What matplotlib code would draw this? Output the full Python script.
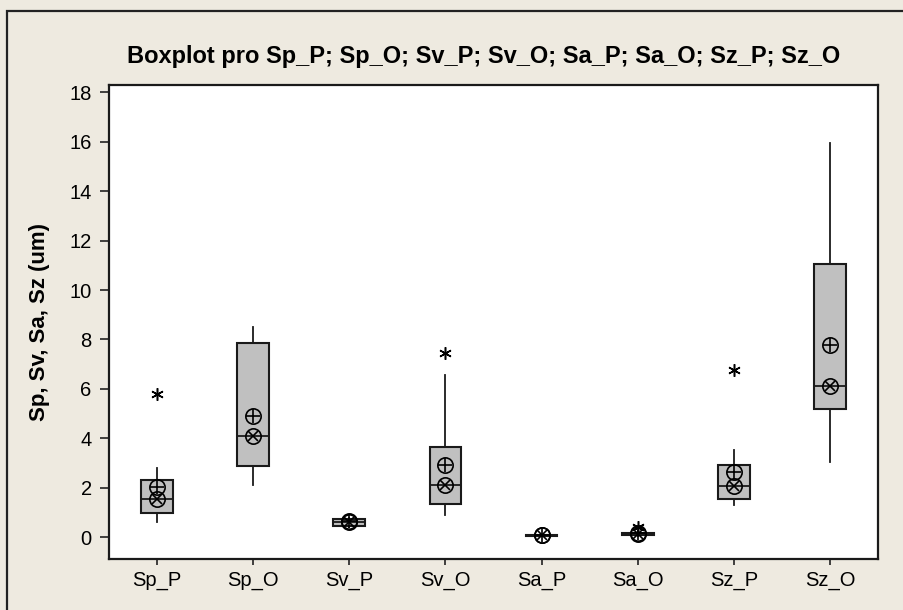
import matplotlib.pyplot as plt
from matplotlib.patches import Rectangle

# Surface roughness parameters, P and O samples
labels = ["Sp_P", "Sp_O", "Sv_P", "Sv_O", "Sa_P", "Sa_O", "Sz_P", "Sz_O"]
whisker_low = [0.59, 2.12, 0.42, 0.90, 0.03, 0.06, 1.28, 3.02]
q1 = [0.97, 2.89, 0.45, 1.35, 0.04, 0.09, 1.55, 5.18]
median = [1.54, 4.07, 0.62, 2.12, 0.07, 0.13, 2.05, 6.13]
q3 = [2.29, 7.85, 0.72, 3.66, 0.09, 0.17, 2.93, 11.05]
whisker_high = [2.79, 8.50, 0.76, 6.56, 0.10, 0.24, 3.51, 15.95]
means = [2.01, 4.88, 0.66, 2.93, 0.07, 0.15, 2.63, 7.76]
outliers = [[5.80], [], [], [7.45], [], [0.40], [6.75], []]

bg = "#EEEAE0"
plt.rcParams["font.family"] = ["Liberation Sans", "DejaVu Sans"]

fig = plt.figure(figsize=(9.04, 6.10), dpi=100, facecolor=bg)
ax = fig.add_axes([109 / 904, 1 - 559 / 610, (878 - 109) / 904, (559 - 85) / 610])

# outer frame of the graph window
fig.patches.append(Rectangle((7 / 904, -0.1), 1.2, 1 - 11 / 610 + 0.1,
                             transform=fig.transFigure, fill=False,
                             edgecolor="#222222", linewidth=1.6))

stats = []
for i, name in enumerate(labels):
    stats.append(dict(label=name, whislo=whisker_low[i], q1=q1[i], med=median[i],
                      q3=q3[i], whishi=whisker_high[i], fliers=outliers[i]))

pos = list(range(1, len(labels) + 1))
ax.bxp(stats, positions=pos, widths=0.33, patch_artist=True, showcaps=False,
       boxprops=dict(facecolor="#C0C0C0", edgecolor="#1a1a1a", linewidth=1.5),
       medianprops=dict(color="#1a1a1a", linewidth=1.3),
       whiskerprops=dict(color="#1a1a1a", linewidth=1.3),
       flierprops=dict(marker=(6, 2, 0), markersize=9, markeredgecolor="black",
                       markeredgewidth=1.1, linestyle="none"))

# circle-plus at the mean, circle-cross at the median
for marker in ["o", "+"]:
    ax.plot(pos, means, linestyle="none", marker=marker, markersize=11 if marker == "o" else 10,
            markerfacecolor="none", markeredgecolor="black", markeredgewidth=1.2, zorder=5)
for marker in ["o", "x"]:
    ax.plot(pos, median, linestyle="none", marker=marker, markersize=11 if marker == "o" else 7,
            markerfacecolor="none", markeredgecolor="black", markeredgewidth=1.2, zorder=5)

ax.set_xlim(0.5, 8.5)
ax.set_ylim(-0.89, 18.3)
ax.set_yticks(range(0, 19, 2))
ax.set_xticks(pos)
ax.set_xticklabels(labels)
ax.tick_params(direction="out", width=1.2, labelsize=14.5, color="#222222")
ax.tick_params(axis="y", length=6.5, pad=6)
ax.tick_params(axis="x", length=4.5, pad=4)
for s in ax.spines.values():
    s.set_linewidth(1.6)
    s.set_color("#1a1a1a")
ax.set_facecolor("white")

ax.set_ylabel("Sp, Sv, Sa, Sz (um)", fontsize=16, fontweight="bold")
ax.yaxis.set_label_coords(-(109 - 50) / 769, 0.5)
fig.text(484 / 904, 1 - 56 / 610, "Boxplot pro Sp_P; Sp_O; Sv_P; Sv_O; Sa_P; Sa_O; Sz_P; Sz_O",
         ha="center", va="center", fontsize=17, fontweight="bold")

fig.savefig("out.png", dpi=100, facecolor=bg)
